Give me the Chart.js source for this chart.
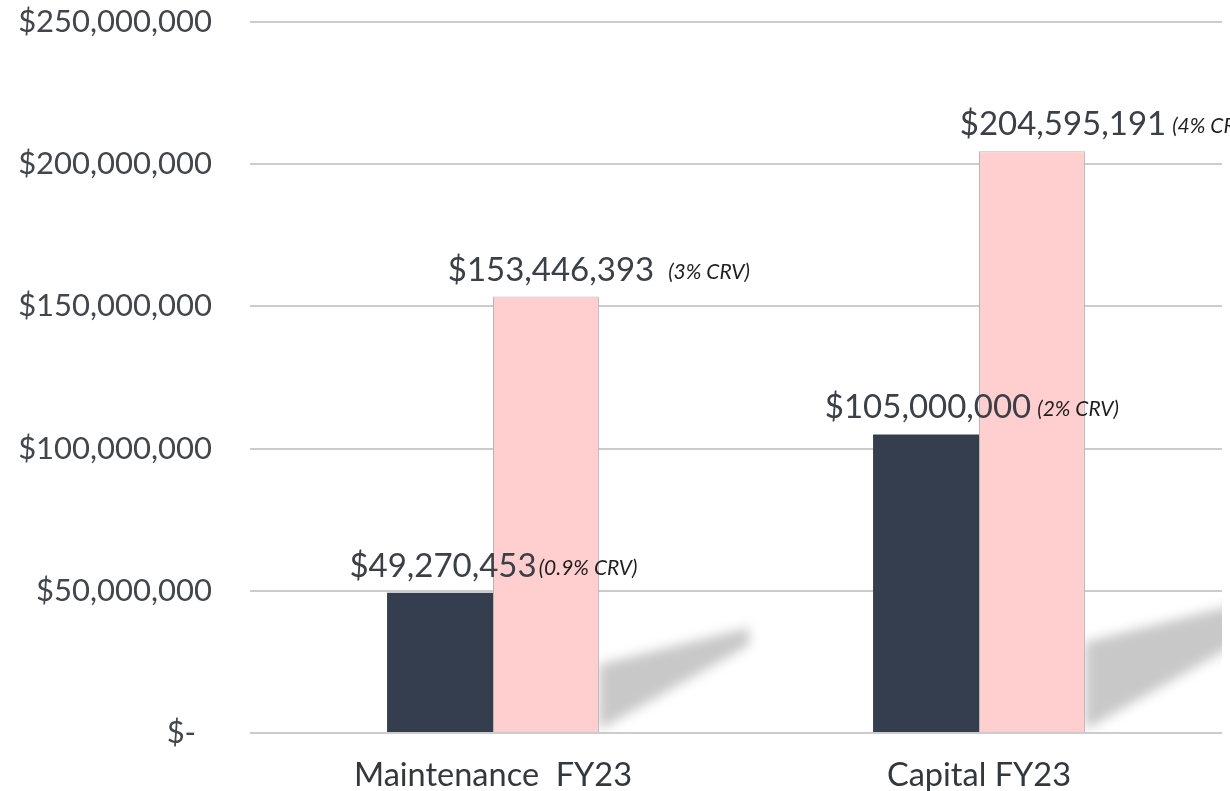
<!DOCTYPE html>
<html>
<head>
<meta charset="utf-8">
<script src="https://cdn.jsdelivr.net/npm/chart.js@4/dist/chart.umd.min.js"></script>
<style>
  html, body { margin: 0; padding: 0; background: #ffffff; }
  #wrap { width: 1230px; height: 791px; position: relative; }
</style>
</head>
<body>
<div id="wrap"><canvas id="myChart"></canvas></div>
<script>
// Chart data
const categories = ['Maintenance  FY23', 'Capital FY23'];
const currentFunding = [49270453, 105000000];
const neededFunding = [153446393, 204595191];
const currentCrv = ['(0.9% CRV)', '(2% CRV)'];
const neededCrv = ['(3% CRV)', '(4% CRV)'];
const yTickValues = [0, 50000000, 100000000, 150000000, 200000000, 250000000];

const money = v => v === 0 ? '$-  ' : '$' + v.toLocaleString('en-US');

// Soft diagonal shadow behind the pink bars
const barShadow = {
  id: 'barShadow',
  beforeDatasetsDraw(chart) {
    const ctx = chart.ctx;
    const area = chart.chartArea;
    const meta = chart.getDatasetMeta(1);
    ctx.save();
    ctx.beginPath();
    ctx.rect(area.left, area.top, area.right - area.left, area.bottom - area.top);
    ctx.clip();
    ctx.filter = 'blur(6px)';
    ctx.fillStyle = '#c8c8c8';
    meta.data.forEach(bar => {
      const xr = bar.x + bar.width / 2;
      const base = bar.base;
      const h = base - bar.y;
      ctx.beginPath();
      ctx.moveTo(xr, base - 2);
      ctx.lineTo(xr, base - 0.155 * h);
      ctx.lineTo(xr + 0.345 * h, base - 0.24 * h);
      ctx.lineTo(xr + 0.345 * h, base - 0.2 * h);
      ctx.closePath();
      ctx.fill();
    });
    ctx.restore();
  }
};

// Value labels with the CRV note after them
const valueLabels = {
  id: 'valueLabels',
  afterDatasetsDraw(chart, args, opts) {
    const ctx = chart.ctx;
    ctx.save();
    chart.data.datasets.forEach((ds, di) => {
      chart.getDatasetMeta(di).data.forEach((bar, i) => {
        const main = money(ds.data[i]);
        const note = ds.notes[i];
        const shift = opts.shift[di][i];
        ctx.font = '33px Lato';
        const w = ctx.measureText(main).width;
        const x0 = bar.x - w / 2 + shift;
        const yb = bar.y - 16;
        ctx.fillStyle = '#3b4048';
        ctx.textAlign = 'left';
        ctx.textBaseline = 'alphabetic';
        ctx.fillText(main, x0, yb);
        ctx.font = 'italic 21px Lato';
        ctx.fillStyle = '#1e1e1e';
        ctx.fillText(note, x0 + w + opts.gap[di][i], yb - 2);
      });
    });
    ctx.restore();
  }
};

const ctx = document.getElementById('myChart').getContext('2d');
new Chart(ctx, {
  type: 'bar',
  data: {
    labels: categories,
    datasets: [
      {
        label: 'Current',
        data: currentFunding,
        notes: currentCrv,
        backgroundColor: '#343e4f',
        borderWidth: 0
      },
      {
        label: 'Needed',
        data: neededFunding,
        notes: neededCrv,
        backgroundColor: '#ffcfcf',
        borderColor: '#bdb5b5',
        borderWidth: 1
      }
    ]
  },
  options: {
    responsive: true,
    maintainAspectRatio: false,
    animation: false,
    categoryPercentage: 0.436,
    barPercentage: 1,
    layout: { padding: { top: 22, right: 8, left: 0, bottom: 0 } },
    scales: {
      x: {
        grid: { display: false },
        border: { display: false },
        ticks: {
          color: '#33373e',
          font: { family: 'Lato', size: 32.5 },
          padding: 15
        },
        afterFit: scale => { scale.height = 58; }
      },
      y: {
        min: 0,
        max: 250000000,
        border: { display: false },
        grid: { color: '#cccccc', lineWidth: 2, drawTicks: false },
        afterBuildTicks: scale => {
          scale.ticks = yTickValues.map(v => ({ value: v }));
        },
        ticks: {
          color: '#42464d',
          font: { family: 'Lato', size: 31 },
          padding: 38,
          callback: v => money(v)
        },
        afterFit: scale => {
          scale.width = 250;
          scale.paddingTop = 0;
          scale.paddingBottom = 0;
        }
      }
    },
    plugins: {
      legend: { display: false },
      tooltip: { enabled: false },
      valueLabels: {
        shift: [[3, 2], [5, 31]],
        gap: [[2, 6], [14, 6]]
      }
    }
  },
  plugins: [barShadow, valueLabels]
});
</script>
</body>
</html>
